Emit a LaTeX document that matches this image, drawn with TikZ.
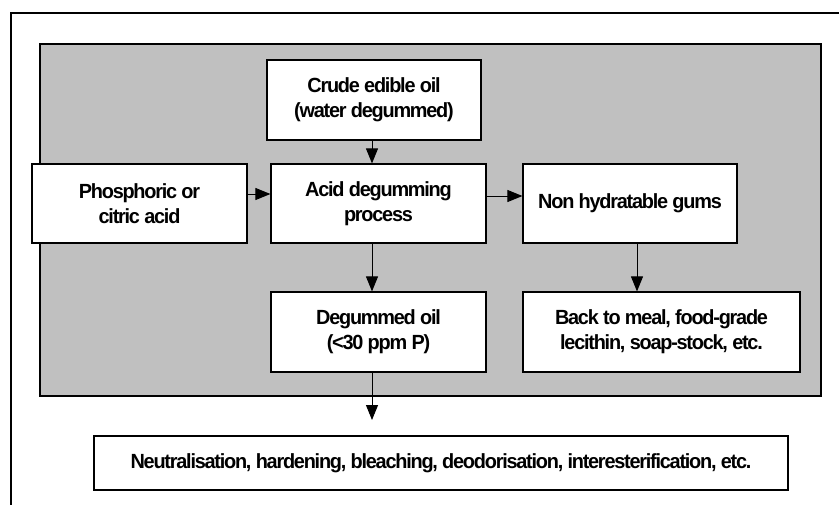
\documentclass[tikz,border=0pt]{standalone}
\usepackage{fontspec}
\setmainfont{Liberation Sans}[FakeStretch=0.97,LetterSpace=-6]
\usetikzlibrary{arrows.meta}
\definecolor{panel}{HTML}{C0C0C0}
\begin{document}
\begin{tikzpicture}[x=1pt,y=-1pt,
  box/.style={draw=black,line width=1.2pt,fill=white,inner sep=0pt,align=center,
    font=\fontsize{20.5}{25}\selectfont\bfseries},
  arr/.style={line width=1pt,-{Triangle[length=15pt,width=12pt]}}]
\useasboundingbox (0,0) rectangle (839,504);
\fill[white] (0,0) rectangle (839,504);
\draw[line width=2pt] (11,520) -- (11,13) -- (850,13);
\draw[line width=1.2pt,fill=panel] (40,44) rectangle (821,396);
\node[box,minimum width=214pt,minimum height=80pt] (crude) at (374,100) {Crude edible oil\\(water degummed)};
\node[box,minimum width=215pt,minimum height=79pt] (phos) at (139.5,203.5) {Phosphoric or\\citric acid};
\node[box,minimum width=215pt,minimum height=79pt] (acid) at (378.5,203.5) {Acid degumming\\process};
\node[box,minimum width=214pt,minimum height=79pt] (non) at (630,203.5) {Non hydratable gums};
\node[box,minimum width=215pt,minimum height=80pt] (deg) at (378.5,332) {Degummed oil\\(<30 ppm P)};
\node[box,minimum width=277pt,minimum height=80pt] (back) at (661.5,332) {Back to meal, food-grade\\lecithin, soap-stock, etc.};
\node[box,minimum width=694pt,minimum height=54pt] (bottom) at (441,463) {Neutralisation, hardening, bleaching, deodorisation, interesterification, etc.};
\coordinate (outend) at (372,420);
\draw[arr] (crude.south -| outend) -- (acid.north -| outend);
\draw[arr] (phos.east |- 0,194) -- (acid.west |- 0,194);
\draw[arr] (acid.east |- 0,196) -- (non.west |- 0,196);
\draw[arr] (acid.south -| outend) -- (deg.north -| outend);
\draw[arr] (non.south -| 637,0) -- (back.north -| 637,0);
\draw[arr] (deg.south -| outend) -- (outend);
\end{tikzpicture}
\end{document}
